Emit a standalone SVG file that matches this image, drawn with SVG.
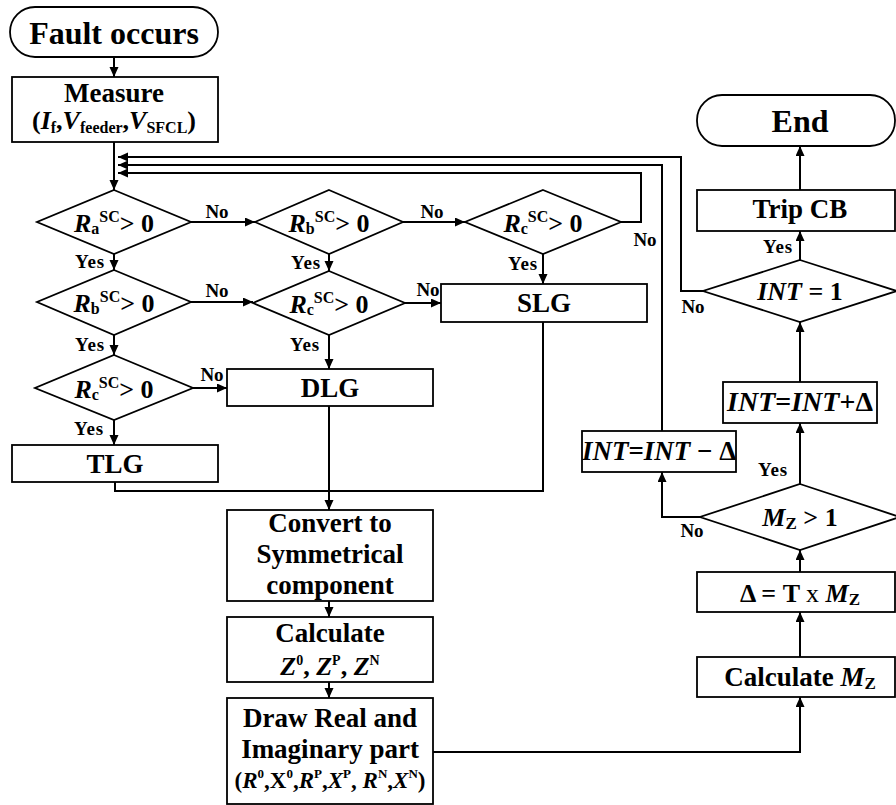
<svg xmlns="http://www.w3.org/2000/svg" width="896" height="805" viewBox="0 0 896 805">
<style>
.box{fill:#fff;stroke:#000;stroke-width:1.8}
.ln{fill:none;stroke:#000;stroke-width:2}
.arr{marker-end:url(#ah)}
text{font-family:"Liberation Serif","DejaVu Serif",serif;font-weight:bold;fill:#000}
.c{text-anchor:middle}
.t26{font-size:26px}
.t27{font-size:27px}
.t28{font-size:28px}
.lbl{font-size:19px;text-anchor:middle}
.y{letter-spacing:0.8px}
.i{font-style:italic}
</style>
<defs>
<marker id="ah" markerUnits="userSpaceOnUse" markerWidth="11" markerHeight="10" refX="10" refY="4.5" orient="auto">
<path d="M0,0 L10,4.5 L0,9 z" fill="#000"/>
</marker>
</defs>
<rect width="896" height="805" fill="#fff"/>

<g id="connectors">
<path class="ln arr" d="M114,57 V77"/>
<path class="ln arr" d="M114,142 V190"/>
<path class="ln arr" d="M703,291 H681 V157 H118"/>
<path class="ln arr" d="M662,431 V165 H118"/>
<path class="ln arr" d="M621,222 H641 V173 H118"/>
<path class="ln arr" d="M191,222 H255"/>
<path class="ln arr" d="M403,222 H465"/>
<path class="ln arr" d="M114,254 V270"/>
<path class="ln arr" d="M329,254 V271"/>
<path class="ln arr" d="M543,254 V284"/>
<path class="ln arr" d="M191,302 H253"/>
<path class="ln arr" d="M405,303 H441"/>
<path class="ln arr" d="M114,335 V355"/>
<path class="ln arr" d="M329,335 V369"/>
<path class="ln arr" d="M193,388 H227"/>
<path class="ln arr" d="M114,420 V445"/>
<path class="ln" d="M115,482 V491 H543 V322"/>
<path class="ln arr" d="M329,406 V510"/>
<path class="ln arr" d="M329,601 V617"/>
<path class="ln arr" d="M329,682 V698"/>
<path class="ln arr" d="M433,752 H800 V697"/>
<path class="ln arr" d="M800,657 V612"/>
<path class="ln arr" d="M800,572 V550"/>
<path class="ln arr" d="M800,484 V423"/>
<path class="ln arr" d="M700,517 H662 V472"/>
<path class="ln arr" d="M800,382 V322"/>
<path class="ln arr" d="M800,260 V231"/>
<path class="ln arr" d="M800,190 V146"/>
<text class="lbl" x="217" y="218">No</text>
<text class="lbl" x="432" y="218">No</text>
<text class="lbl y" x="90" y="268">Yes</text>
<text class="lbl y" x="306" y="269">Yes</text>
<text class="lbl y" x="523" y="270">Yes</text>
<text class="lbl" x="217" y="297">No</text>
<text class="lbl" x="428" y="296">No</text>
<text class="lbl y" x="90" y="351">Yes</text>
<text class="lbl y" x="305" y="351">Yes</text>
<text class="lbl" x="212" y="381">No</text>
<text class="lbl y" x="89" y="435">Yes</text>
<text class="lbl" x="645" y="246">No</text>
<text class="lbl y" x="778" y="253">Yes</text>
<text class="lbl" x="693" y="313">No</text>
<text class="lbl y" x="773" y="476">Yes</text>
<text class="lbl" x="692" y="537">No</text>
</g>

<g id="start">
<rect class="box" x="10" y="7" width="208" height="50" rx="25"/>
<text class="c" x="114" y="44" font-size="32">Fault occurs</text>
</g>

<g id="measure">
<rect class="box" x="12" y="77" width="206" height="65"/>
<text class="c t27" x="114" y="102">Measure</text>
<text class="c t26" x="114" y="129">(<tspan class="i">I</tspan><tspan font-size="16" dy="4">f</tspan><tspan dy="-4">,</tspan><tspan class="i">V</tspan><tspan font-size="16" dy="4">feeder</tspan><tspan dy="-4">,</tspan><tspan class="i">V</tspan><tspan font-size="16" dy="4">SFCL</tspan><tspan dy="-4">)</tspan></text>
</g>

<g id="d_ra">
<polygon class="box" points="114,190 191,222 114,254 37,222"/>
<text class="c t26" x="114" y="232"><tspan class="i">R</tspan><tspan font-size="16" dy="2">a</tspan><tspan font-size="16" dy="-12">SC</tspan><tspan dy="10">&gt; 0</tspan></text>
</g>

<g id="d_rb1">
<polygon class="box" points="329,190 403,222 329,254 255,222"/>
<text class="c t26" x="329" y="232"><tspan class="i">R</tspan><tspan font-size="16" dy="2">b</tspan><tspan font-size="16" dy="-12">SC</tspan><tspan dy="10">&gt; 0</tspan></text>
</g>

<g id="d_rc1">
<polygon class="box" points="543,190 621,222 543,254 465,222"/>
<text class="c t26" x="543" y="232"><tspan class="i">R</tspan><tspan font-size="16" dy="2">c</tspan><tspan font-size="16" dy="-12">SC</tspan><tspan dy="10">&gt; 0</tspan></text>
</g>

<g id="d_rb2">
<polygon class="box" points="114,270 191,302 114,335 37,302"/>
<text class="c t26" x="114" y="312"><tspan class="i">R</tspan><tspan font-size="16" dy="2">b</tspan><tspan font-size="16" dy="-12">SC</tspan><tspan dy="10">&gt; 0</tspan></text>
</g>

<g id="d_rc2">
<polygon class="box" points="329,271 405,303 329,335 253,303"/>
<text class="c t26" x="329" y="313"><tspan class="i">R</tspan><tspan font-size="16" dy="2">c</tspan><tspan font-size="16" dy="-12">SC</tspan><tspan dy="10">&gt; 0</tspan></text>
</g>

<g id="d_rc3">
<polygon class="box" points="114,355 193,388 114,420 35,388"/>
<text class="c t26" x="114" y="398"><tspan class="i">R</tspan><tspan font-size="16" dy="2">c</tspan><tspan font-size="16" dy="-12">SC</tspan><tspan dy="10">&gt; 0</tspan></text>
</g>

<g id="slg">
<rect class="box" x="441" y="284" width="206" height="38"/>
<text class="c t27" x="544" y="312">SLG</text>
</g>

<g id="dlg">
<rect class="box" x="227" y="369" width="206" height="37"/>
<text class="c t27" x="330" y="397">DLG</text>
</g>

<g id="tlg">
<rect class="box" x="12" y="445" width="206" height="37"/>
<text class="c t27" x="115" y="473">TLG</text>
</g>

<g id="convert">
<rect class="box" x="227" y="510" width="206" height="91"/>
<text class="c t27" x="330" y="532">Convert to</text>
<text class="c t27" x="330" y="563">Symmetrical</text>
<text class="c t27" x="330" y="594">component</text>
</g>

<g id="calculate">
<rect class="box" x="227" y="617" width="206" height="65"/>
<text class="c t27" x="330" y="642">Calculate</text>
<text class="c t26" x="330" y="675"><tspan class="i">Z</tspan><tspan font-size="14" dy="-10">0</tspan><tspan dy="10">, </tspan><tspan class="i">Z</tspan><tspan font-size="14" dy="-10">P</tspan><tspan dy="10">, </tspan><tspan class="i">Z</tspan><tspan font-size="14" dy="-10">N</tspan></text>
</g>

<g id="draw">
<rect class="box" x="227" y="698" width="206" height="106"/>
<text class="c t27" x="330" y="727">Draw Real and</text>
<text class="c t27" x="330" y="758">Imaginary part</text>
<text class="c" x="330" y="788" font-size="23">(<tspan class="i">R</tspan><tspan font-size="13" dy="-10">0</tspan><tspan dy="10">,X</tspan><tspan font-size="13" dy="-10">0</tspan><tspan dy="10">,</tspan><tspan class="i">R</tspan><tspan font-size="13" dy="-10">P</tspan><tspan dy="10">,</tspan><tspan class="i">X</tspan><tspan font-size="13" dy="-10">P</tspan><tspan dy="10">, </tspan><tspan class="i">R</tspan><tspan font-size="13" dy="-10">N</tspan><tspan dy="10">,</tspan><tspan class="i">X</tspan><tspan font-size="13" dy="-10">N</tspan><tspan dy="10">)</tspan></text>
</g>

<g id="end">
<rect class="box" x="697" y="95" width="198" height="51" rx="25"/>
<text class="c" x="800" y="132" font-size="32">End</text>
</g>

<g id="trip">
<rect class="box" x="697" y="190" width="198" height="41"/>
<text class="c t27" x="800" y="218">Trip CB</text>
</g>

<g id="d_int">
<polygon class="box" points="800,260 897,291 800,322 703,291"/>
<text class="c t26" x="800" y="300"><tspan class="i">INT</tspan> = 1</text>
</g>

<g id="int_plus">
<rect class="box" x="723" y="382" width="154" height="41"/>
<text class="c t28" x="800" y="411"><tspan class="i">INT</tspan>=<tspan class="i">INT</tspan>+Δ</text>
</g>

<g id="int_minus">
<rect class="box" x="582" y="431" width="154" height="41"/>
<text class="c" x="659" y="460" font-size="27"><tspan class="i">INT</tspan>=<tspan class="i">INT</tspan> − Δ</text>
</g>

<g id="d_mz">
<polygon class="box" points="800,484 900,517 800,550 700,517"/>
<text class="c t26" x="800" y="526"><tspan class="i">M</tspan><tspan font-size="17" dy="3">Z</tspan><tspan dy="-3"> &gt; 1</tspan></text>
</g>

<g id="delta">
<rect class="box" x="697" y="572" width="198" height="40"/>
<text class="c t26" x="800" y="602">Δ = T <tspan font-weight="normal">x</tspan> <tspan class="i">M</tspan><tspan font-size="17" dy="3">Z</tspan></text>
</g>

<g id="calc_mz">
<rect class="box" x="697" y="657" width="198" height="40"/>
<text class="c t27" x="800" y="686">Calculate <tspan class="i">M</tspan><tspan font-size="17" dy="3">Z</tspan></text>
</g>
</svg>
